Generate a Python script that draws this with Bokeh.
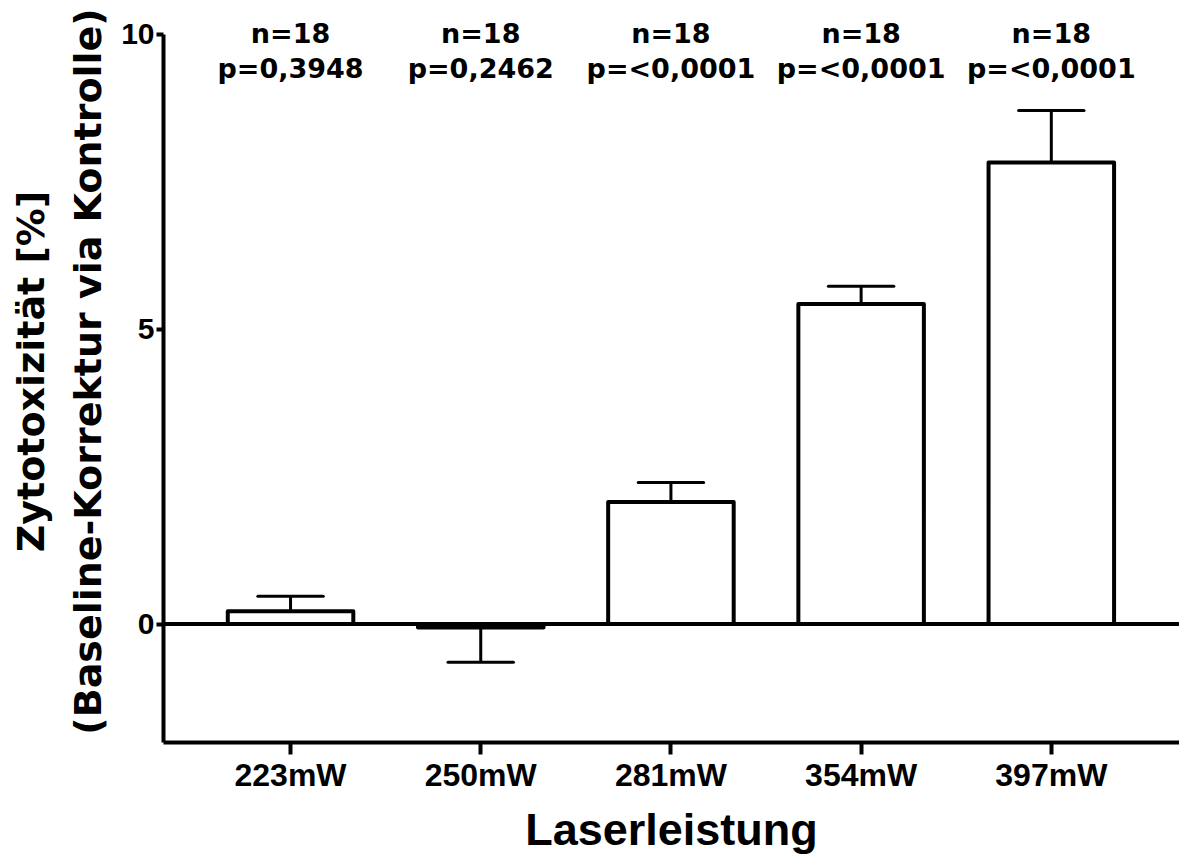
from bokeh.plotting import figure
from bokeh.models import Range1d, FixedTicker, Span, ColumnDataSource
from bokeh.core.properties import value
from bokeh.embed import file_html
from bokeh.resources import INLINE

# ---- data ----
categories = ["223mW", "250mW", "281mW", "354mW", "397mW"]
means = [0.217, -0.06, 2.07, 5.43, 7.83]
sems = [0.255, 0.59, 0.33, 0.30, 0.88]
n_labels = ["n=18", "n=18", "n=18", "n=18", "n=18"]
p_labels = ["p=0,3948", "p=0,2462", "p=<0,0001", "p=<0,0001", "p=<0,0001"]
y_ticks = [0, 5, 10]

x_idx = list(range(len(categories)))
err_end = [m + (s if m >= 0 else -s) for m, s in zip(means, sems)]

src = ColumnDataSource(dict(x=x_idx, top=means, end=err_end,
                            x0=[x - 0.172 for x in x_idx],
                            x1=[x + 0.172 for x in x_idx],
                            n=n_labels, pl=p_labels))

p = figure(width=1179, height=857, output_backend="svg", toolbar_location=None,
           x_range=Range1d(-0.668, 4.674), y_range=Range1d(-2.01, 10.576),
           min_border_left=163, min_border_right=0, min_border_top=0,
           min_border_bottom=0)
p.outline_line_color = None
p.grid.visible = False
p.background_fill_color = "white"

# bars
p.vbar(x="x", top="top", bottom=0, width=0.66, source=src,
       fill_color="white", line_color="black", line_width=4, line_join="round")
# error bars
p.segment(x0="x", y0="top", x1="x", y1="end", source=src, line_color="black", line_width=3)
p.segment(x0="x0", y0="end", x1="x1", y1="end", source=src, line_color="black",
          line_width=3, line_cap="round")

# zero line
p.add_layout(Span(location=0, dimension="width", line_color="black", line_width=4))

# annotations
p.text(x="x", y=10.017, text="n", source=src, text_font=value("DejaVu Sans"),
       text_font_style="bold", text_font_size="27px", text_align="center",
       text_baseline="alphabetic", text_color="black")
p.text(x="x", y=9.423, text="pl", source=src, text_font=value("DejaVu Sans"),
       text_font_style="bold", text_font_size="27px", text_align="center",
       text_baseline="alphabetic", text_color="black")

# x axis
xa = p.xaxis[0]
xa.ticker = FixedTicker(ticks=x_idx)
xa.major_label_overrides = {i: c for i, c in enumerate(categories)}
xa.minor_tick_line_color = None
xa.axis_line_width = 4
xa.major_tick_line_width = 4
xa.major_tick_out = 12
xa.major_tick_in = 0
xa.major_label_standoff = 2
xa.major_label_text_font = "Liberation Sans"
xa.major_label_text_font_style = "bold"
xa.major_label_text_font_size = "32px"
xa.major_label_text_color = "black"
xa.axis_label = "Laserleistung"
xa.axis_label_text_font = "Liberation Sans"
xa.axis_label_text_font_style = "bold"
xa.axis_label_text_font_size = "45px"
xa.axis_label_text_color = "black"
xa.axis_label_standoff = 8

# y axis
ya = p.yaxis[0]
ya.ticker = FixedTicker(ticks=y_ticks)
ya.bounds = (-2.01, 10)
ya.minor_tick_line_color = None
ya.axis_line_width = 4
ya.major_tick_line_width = 4
ya.major_tick_out = 7
ya.major_tick_in = 0
ya.major_label_standoff = 2
ya.major_label_text_font = "Liberation Sans"
ya.major_label_text_font_style = "bold"
ya.major_label_text_font_size = "30px"
ya.major_label_text_color = "black"
ya.axis_label = "Zytotoxizität [%]\n(Baseline-Korrektur via Kontrolle)"
ya.axis_label_text_font = "DejaVu Sans"
ya.axis_label_text_font_style = "bold"
ya.axis_label_text_font_size = "38px"
ya.axis_label_text_line_height = 1.3
ya.axis_label_text_color = "black"
ya.axis_label_standoff = 8

open("out.html", "w").write(file_html(p, INLINE))
